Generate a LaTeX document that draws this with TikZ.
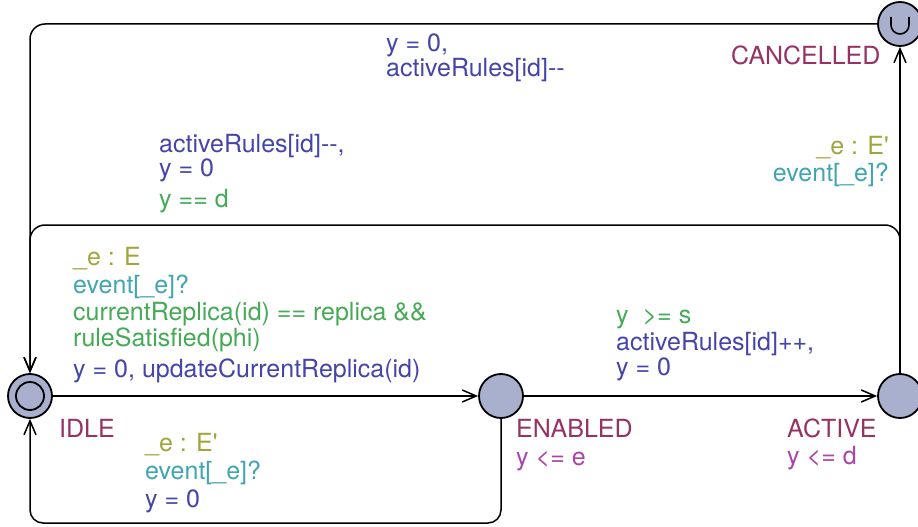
\documentclass[tikz,border=0pt]{standalone}
\usepackage{fontspec}
\setmainfont{TeX Gyre Heros}[Ligatures=TeXOff]
\usetikzlibrary{arrows.meta}
\definecolor{asg}{RGB}{68,68,170}
\definecolor{grd}{RGB}{68,170,85}
\definecolor{syn}{RGB}{64,165,176}
\definecolor{sel}{RGB}{160,165,60}
\definecolor{nam}{RGB}{150,50,100}
\definecolor{inv}{RGB}{170,68,170}
\definecolor{locfill}{RGB}{168,176,206}
\begin{document}
\begin{tikzpicture}[x=1pt,y=-1pt,
  loc/.style={circle,draw,line width=1.8pt,fill=locfill,minimum size=44pt,inner sep=0pt},
  edge/.style={line width=1.5pt,-{Straight Barb[length=14pt,width=12pt]}},
  lbl/.style={anchor=base west,inner sep=0pt,font=\fontsize{25}{30}\selectfont},
  lble/.style={lbl,anchor=base east},
  asgt/.style={lbl,text=asg}, grdt/.style={lbl,text=grd}, synt/.style={lbl,text=syn},
  selt/.style={lbl,text=sel}, namt/.style={lbl,text=nam}, invt/.style={lbl,text=inv}]
\useasboundingbox (0,0) rectangle (918,527);
\clip (0,0) rectangle (918,527);

% locations
\node[loc] (idle) at (30,396) {};
\node[circle,draw,line width=1.8pt,fill=locfill,minimum size=28pt,inner sep=0pt] (idlein) at (idle) {};
\node[loc] (enabled) at (501,396) {};
\node[loc] (active) at (900,396) {};
\node[loc] (cancelled) at (900,24) {};
\draw[line width=1.6pt] ([shift={(-9,-7)}]cancelled.center) -- ++(0,8) arc[start angle=180,end angle=0,radius=9] -- ++(0,-8);

% bend points
\coordinate (tl) at (30,24);
\coordinate (ar) at (900,225);
\coordinate (al) at (30,225);
\coordinate (br) at (501,523);
\coordinate (bl) at (30,523);

% edges
\draw[edge,rounded corners=15pt] (cancelled.west) -- (tl) -- (idle.north);
\draw[edge,rounded corners=15pt] (active.north) -- (ar) -- (al) -- (idle.north);
\draw[edge] (active.north) -- (cancelled.south);
\draw[edge] (idle.east) -- (enabled.west);
\draw[edge] (enabled.east) -- (active.west);
\draw[edge,rounded corners=13pt] (enabled.south) -- (br) -- (bl) -- (idle.south);

% location labels
\node[namt] (nidle) at (59,437) {IDLE};
\node[namt] (nen) at (516,437) {ENABLED};
\node[invt] (ien) at (516,465) {y <= e};
\node[namt] (nact) at (787,437) {ACTIVE};
\node[invt] (iact) at (787,464) {y <= d};
\node[namt] (ncan) at (731,65) {CANCELLED};

% cancelled -> idle
\node[asgt] (a1) at (386,52) {y = 0,};
\node[asgt] (a2) at (386,77) {activeRules[id]--};

% active -> idle
\node[asgt] (b1) at (159,152) {activeRules[id]--,};
\node[asgt] (b2) at (159,176) {y = 0};
\node[grdt] (b3) at (159,207) {y == d};

% active -> cancelled
\node[lble,text=sel] (c1) at (889,154) {\_e : E'};
\node[lble,text=syn] (c2) at (889,181) {event[\_e]?};

% idle -> enabled
\node[selt] (d1) at (73,265) {\_e : E};
\node[synt] (d2) at (73,293) {event[\_e]?};
\node[grdt] (d3) at (73,320) {currentReplica(id) == replica \&\&};
\node[grdt] (d4) at (73,346) {ruleSatisfied(phi)};
\node[asgt] (d5) at (73,377) {y = 0, updateCurrentReplica(id)};

% enabled -> active
\node[grdt] (e1) at (616,323) {y\space\space>= s};
\node[asgt] (e2) at (616,350) {activeRules[id]++,};
\node[asgt] (e3) at (616,375) {y = 0};

% enabled -> idle
\node[selt] (f1) at (145,451) {\_e : E'};
\node[synt] (f2) at (145,479) {event[\_e]?};
\node[asgt] (f3) at (145,507) {y = 0};
\end{tikzpicture}
\end{document}
